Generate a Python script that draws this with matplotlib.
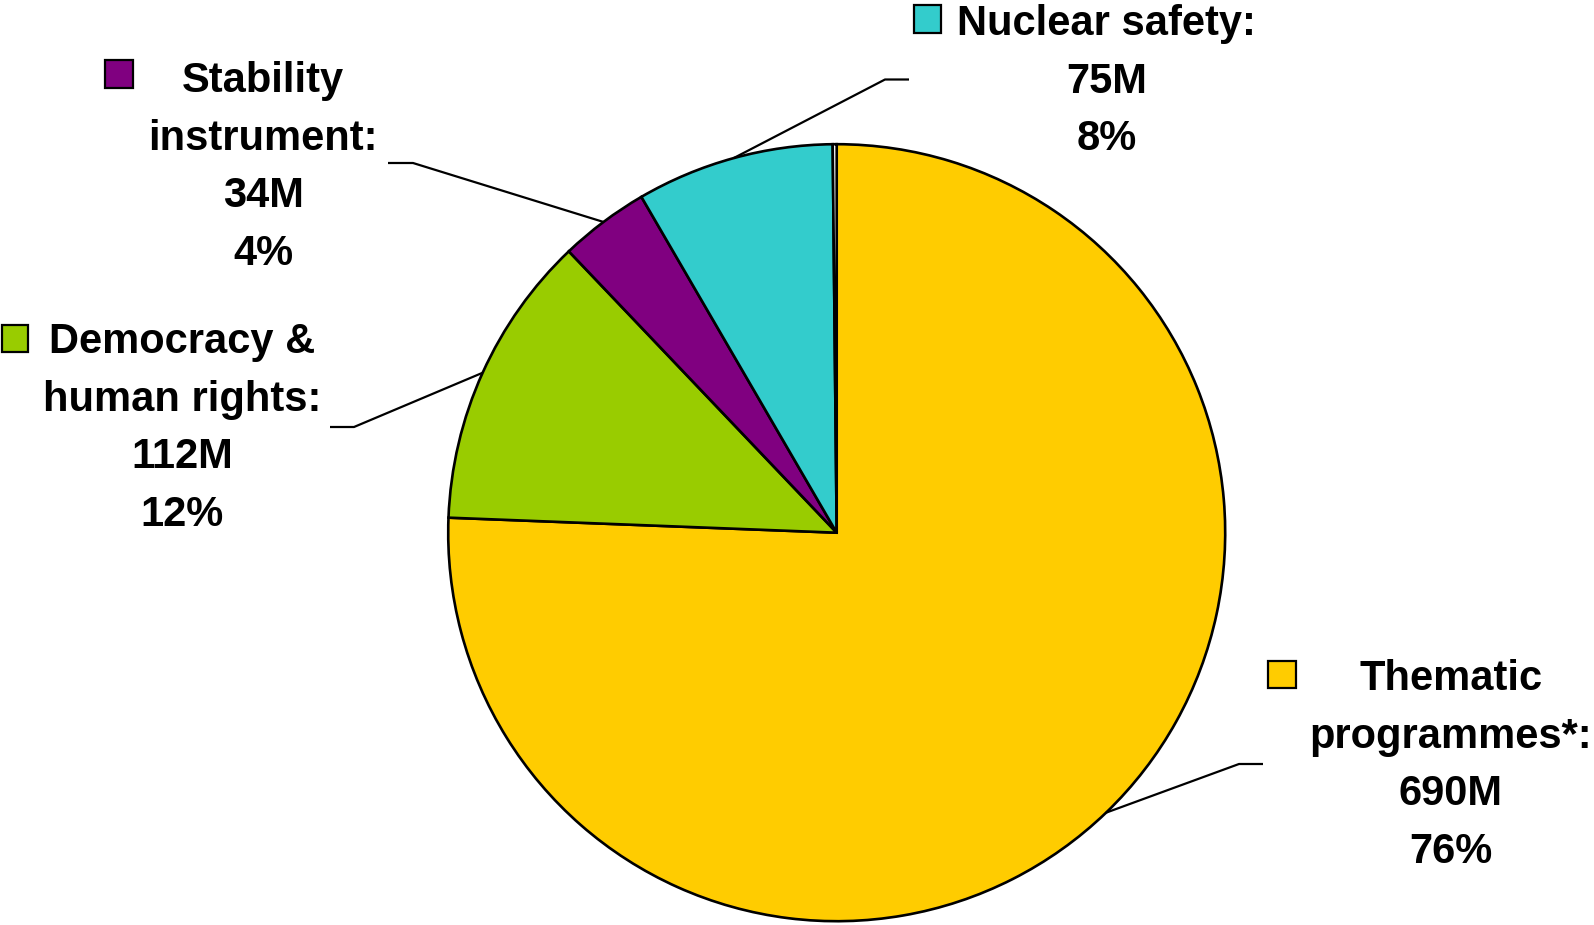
import matplotlib
matplotlib.use("Agg")
import matplotlib.pyplot as plt
from matplotlib.patches import Rectangle
import numpy as np

# Budget split (million EUR), clockwise from 12 o'clock
categories = ["Thematic\nprogrammes*:", "Democracy &\nhuman rights:",
              "Stability\ninstrument:", "Nuclear safety:", ""]
values = [690, 112, 34, 75, 1.5]
colors = ["#FFCC00", "#99CC00", "#800080", "#33CCCC", "#FFFFFF"]

W, H = 1594, 925
fig = plt.figure(figsize=(W / 100, H / 100), dpi=100)
ax = fig.add_axes([0, 0, 1, 1])

def Y(y):
    # top-down pixel row -> axes y
    return H - y

cx, cy, r = 836.7, Y(532.7), 388.5
wedges, _ = ax.pie(values, colors=colors, startangle=90, counterclock=False,
                   center=(cx, cy), radius=r,
                   wedgeprops=dict(edgecolor="black", linewidth=1.9))
ax.set_xlim(0, W)
ax.set_ylim(0, H)
ax.set_aspect("equal")
ax.axis("off")

total = sum(values)
font = dict(family="Liberation Sans", weight="bold", size=30, color="black")
line_step = 57.7

# label block layout: text centre x, first baseline, legend box, leader elbow
layout = [
    dict(tx=1451, base=690, box=(1268, 661, 1296, 688), h0=1263, h1=1239, hy=764),
    dict(tx=182, base=353, box=(2, 325, 28, 352), h0=330, h1=354, hy=427),
    dict(tx=263, base=92, box=(105, 60, 133, 88), h0=388, h1=413, hy=163),
    dict(tx=1106.5, base=35, box=(914, 5, 941, 33), h0=909, h1=885, hy=79.5),
]

for i, lay in enumerate(layout):
    lines = categories[i].split("\n") + [f"{values[i]:g}M",
                                          f"{round(values[i] / total * 100):.0f}%"]
    for k, s in enumerate(lines):
        ax.text(lay["tx"], Y(lay["base"] + k * line_step), s,
                ha="center", va="baseline", **font)
    x0, y0, x1, y1 = lay["box"]
    ax.add_patch(Rectangle((x0, Y(y1)), x1 - x0, y1 - y0, facecolor=colors[i],
                           edgecolor="black", linewidth=1.6, zorder=5))
    w = wedges[i]
    mid = np.deg2rad((w.theta1 + w.theta2) / 2)
    ex, ey = cx + r * np.cos(mid), cy + r * np.sin(mid)
    ax.plot([lay["h0"], lay["h1"], ex], [Y(lay["hy"])] * 2 + [ey],
            color="black", linewidth=1.6, solid_capstyle="butt", zorder=4)

fig.savefig("out.png", dpi=100, facecolor="white")
